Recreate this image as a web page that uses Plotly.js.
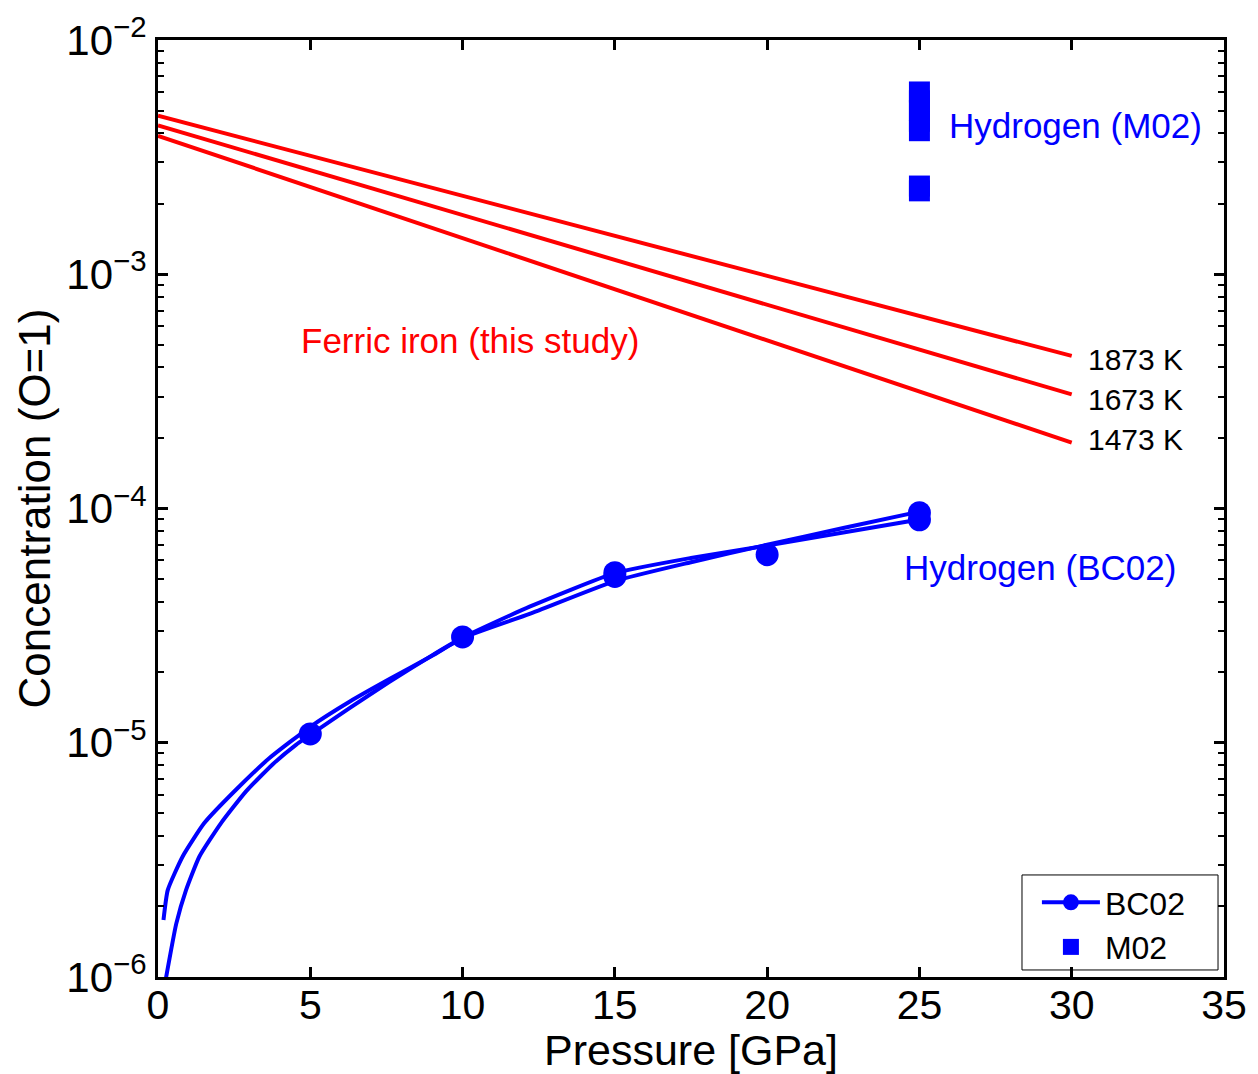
<!DOCTYPE html>
<html>
<head>
<meta charset="utf-8">
<script src="https://cdn.plot.ly/plotly-3.0.1.min.js"></script>
<style>html,body{margin:0;padding:0;background:#fff;}#chart{width:1258px;height:1074px;}</style>
</head>
<body>
<div id="chart"></div>
<script>
// Ferric iron lines (this study), concentration vs pressure
const ferricP = [0, 30];
const ferric1873 = [4.75e-3, 4.48e-4];
const ferric1673 = [4.32e-3, 3.07e-4];
const ferric1473 = [3.90e-3, 1.91e-4];
const tempLabels = ["1873 K", "1673 K", "1473 K"];

// Hydrogen (BC02) fit curves
const bcCurveAP = [0.18, 0.32, 0.81, 1.52, 2.56, 3.66, 5, 6.3, 7.6, 9, 10, 12.2, 15, 17.5, 20, 22.5, 25];
const bcCurveA  = [1.75e-6, 2.35e-6, 3.27e-6, 4.54e-6, 6.3e-6, 8.6e-6, 1.17e-5, 1.5e-5, 1.87e-5, 2.35e-5, 2.8e-5, 3.55e-5, 4.9e-5, 5.9e-5, 7.0e-5, 8.25e-5, 9.7e-5];
const bcCurveBP = [0.25, 0.6, 0.92, 1.36, 2.07, 2.89, 3.77, 4.53, 5, 6.3, 7.6, 9, 10, 12.2, 15, 17.5, 20, 22.5, 25];
const bcCurveB  = [0.97e-6, 1.69e-6, 2.35e-6, 3.27e-6, 4.54e-6, 6.2e-6, 8.1e-6, 9.8e-6, 1.08e-5, 1.41e-5, 1.82e-5, 2.36e-5, 2.81e-5, 3.81e-5, 5.3e-5, 6.15e-5, 6.95e-5, 7.9e-5, 8.97e-5];

// Hydrogen (BC02) data points
const bcP = [5, 10, 15, 15, 20, 25, 25];
const bcC = [1.09e-5, 2.83e-5, 5.32e-5, 5.13e-5, 6.35e-5, 9.6e-5, 8.95e-5];

// Hydrogen (M02) data points
const m02P = [25, 25, 25, 25, 25, 25, 25];
const m02C = [4.1e-3, 4.5e-3, 5.0e-3, 5.5e-3, 6.0e-3, 2.27e-3, 2.38e-3];

// Axis ticks
const xTicks = [0, 5, 10, 15, 20, 25, 30, 35];
const yTickVals = [1e-6, 1e-5, 1e-4, 1e-3, 1e-2];
const yTickText = ["10<sup>\u22126</sup>", "10<sup>\u22125</sup>", "10<sup>\u22124</sup>", "10<sup>\u22123</sup>", "10<sup>\u22122</sup>"];
const minorDigits = [2, 3, 4, 5, 6, 7, 8, 9];
const yMinorVals = [];
yTickVals.slice(0, -1).forEach(d => minorDigits.forEach(m => yMinorVals.push(d * m)));

const RED = "#ff0000";
const BLUE = "#0000ff";
const FONT = "Liberation Sans, Arial, Helvetica, sans-serif";

const traces = [
  {x: ferricP, y: ferric1873, mode: "lines", line: {color: RED, width: 4}, showlegend: false, hoverinfo: "skip"},
  {x: ferricP, y: ferric1673, mode: "lines", line: {color: RED, width: 4}, showlegend: false, hoverinfo: "skip"},
  {x: ferricP, y: ferric1473, mode: "lines", line: {color: RED, width: 4}, showlegend: false, hoverinfo: "skip"},
  {x: bcCurveAP, y: bcCurveA, mode: "lines", line: {color: BLUE, width: 4, shape: "spline", smoothing: 0.5}, showlegend: false},
  {x: bcCurveBP, y: bcCurveB, mode: "lines", line: {color: BLUE, width: 4, shape: "spline", smoothing: 0.5}, showlegend: false},
  {x: bcP, y: bcC, mode: "markers", marker: {symbol: "circle", size: 23, color: BLUE}, showlegend: false},
  {x: [null], y: [null], mode: "lines+markers", name: "BC02", line: {color: BLUE, width: 4}, marker: {symbol: "circle", size: 22, color: BLUE}},
  {x: m02P, y: m02C, mode: "markers", name: "M02", marker: {symbol: "square", size: 21, color: BLUE}}
];

function ann(text, x, y, color, size) {
  return {text: text, x: x, y: y, xref: "paper", yref: "paper", xanchor: "left", yanchor: "middle",
          showarrow: false, font: {family: FONT, size: size, color: color}};
}

const layout = {
  width: 1258, height: 1074,
  margin: {l: 158, r: 34, t: 40, b: 97},
  paper_bgcolor: "#ffffff", plot_bgcolor: "#ffffff",
  font: {family: FONT, color: "#000"},
  xaxis: {
    range: [0, 35], tickvals: xTicks, ticktext: xTicks.map(String),
    ticks: "inside", ticklen: 10, tickwidth: 3, tickcolor: "#000",
    showline: true, linewidth: 3, linecolor: "#000", mirror: "ticks",
    showgrid: false, zeroline: false, ticklabelstandoff: -10,
    tickfont: {family: FONT, size: 41, color: "#000"},
    title: {text: "Pressure [GPa]", font: {family: FONT, size: 43, color: "#000"}, standoff: 4}
  },
  yaxis: {
    type: "log", range: [-6, -2], tickvals: yTickVals, ticktext: yTickText,
    ticks: "inside", ticklen: 10, tickwidth: 3, tickcolor: "#000",
    minor: {tickmode: "array", tickvals: yMinorVals, ticks: "inside", ticklen: 6, tickwidth: 2, tickcolor: "#000", showgrid: false},
    showline: true, linewidth: 3, linecolor: "#000", mirror: "ticks",
    showgrid: false, zeroline: false,
    tickfont: {family: FONT, size: 42, color: "#000"},
    title: {text: "Concentration (O=1)", font: {family: FONT, size: 44, color: "#000"}, standoff: 2}
  },
  legend: {
    x: 0.8245, y: 0.0555, xanchor: "left", yanchor: "middle",
    bgcolor: "rgba(0,0,0,0)", borderwidth: 0,
    font: {family: FONT, size: 32, color: "#000"}, itemwidth: 58, tracegroupgap: 0
  },
  shapes: [
    {type: "rect", xref: "paper", yref: "paper", x0: 0.8105, x1: 0.9944, y0: 0.0075, y1: 0.1089,
     line: {color: "#000", width: 1}, fillcolor: "#ffffff", layer: "below"}
  ],
  annotations: [
    ann("Hydrogen (M02)", 0.7397, 0.9083, BLUE, 35),
    ann("Ferric iron (this study)", 0.1322, 0.679, RED, 35),
    ann("Hydrogen (BC02)", 0.6977, 0.4371, BLUE, 35),
    ann(tempLabels[0], 0.8706, 0.6589, "#000", 30),
    ann(tempLabels[1], 0.8706, 0.6162, "#000", 30),
    ann(tempLabels[2], 0.8706, 0.5736, "#000", 30)
  ]
};

Plotly.newPlot("chart", traces, layout, {displayModeBar: false, staticPlot: true});
</script>
</body>
</html>
